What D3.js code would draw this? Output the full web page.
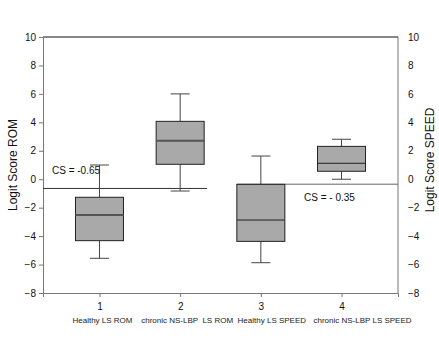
<!DOCTYPE html>
<html><head><meta charset="utf-8">
<script src="https://cdn.jsdelivr.net/npm/d3@7"></script>
<style>body{margin:0;background:#fff}svg{display:block}text{font-family:Arial,"Liberation Sans",sans-serif}</style>
</head><body><div id="chart"></div>
<script>
const categories = [1, 2, 3, 4];
const categoryLabels = ["Healthy LS ROM", "chronic NS-LBP  LS ROM", "Healthy LS SPEED", "chronic NS-LBP LS SPEED"];
const whiskerLow = [-5.56, -0.83, -5.87, 0.0];
const q1 = [-4.32, 1.05, -4.37, 0.56];
const median = [-2.52, 2.71, -2.87, 1.12];
const q3 = [-1.27, 4.07, -0.36, 2.31];
const whiskerHigh = [1.0, 6.0, 1.63, 2.81];
const yTicks = [10, 8, 6, 4, 2, 0, -2, -4, -6, -8];
const cutScores = [-0.65, -0.35];
const cutLabels = ["CS = -0.65", "CS = - 0.35"];

const W = 439, H = 355;
const svg = d3.select("#chart").append("svg").attr("width", W).attr("height", H);
const x = d3.scaleLinear().domain([0.3, 4.7]).range([43, 398]);
const y = d3.scaleLinear().domain([-8, 10]).range([293, 37]);

// frame
svg.append("line").attr("x1", 43).attr("x2", 398).attr("y1", y(10)).attr("y2", y(10)).attr("stroke", "#111").attr("stroke-width", 1);
svg.append("line").attr("x1", 398).attr("x2", 398).attr("y1", y(10)).attr("y2", y(-8)).attr("stroke", "#777").attr("stroke-width", 1);

// left axis
const yl = svg.append("g").attr("transform", "translate(43,0)")
  .call(d3.axisLeft(y).tickValues(yTicks).tickSize(4).tickPadding(3).tickFormat(d3.format("d")));
yl.select(".domain").attr("stroke", "#777");
yl.selectAll(".tick line").attr("stroke", "#777");
yl.selectAll("text").attr("font-size", 10).attr("fill", "#111");

// right axis
const yr = svg.append("g").attr("transform", "translate(398,0)")
  .call(d3.axisRight(y).tickValues(yTicks).tickSize(0).tickPadding(10).tickFormat(d3.format("d")));
yr.select(".domain").remove();
yr.selectAll("text").attr("font-size", 10).attr("fill", "#111");

// bottom axis
const xa = svg.append("g").attr("transform", `translate(0,${y(-8)})`)
  .call(d3.axisBottom(x).tickValues(categories).tickSize(4).tickPadding(6).tickFormat(d3.format("d")));
xa.select(".domain").attr("stroke", "#777");
xa.selectAll(".tick line").attr("stroke", "#777");
xa.selectAll("text").attr("font-size", 10).attr("fill", "#111");

// category labels
const labelShift = [3, 7, 11, 21];
svg.append("g").selectAll("text").data(categoryLabels).join("text")
  .attr("x", (d, i) => x(categories[i]) + labelShift[i])
  .attr("y", 323).attr("text-anchor", "middle").attr("font-size", 8).attr("fill", "#222")
  .style("white-space", "pre")
  .text(d => d);

// axis titles
svg.append("text").attr("transform", `translate(17,${(y(10) + y(-8)) / 2}) rotate(-90)`)
  .attr("text-anchor", "middle").attr("font-size", 12).attr("fill", "#111").text("Logit Score ROM");
svg.append("text").attr("transform", `translate(434,${(y(10) + y(-8)) / 2 - 5}) rotate(-90)`)
  .attr("text-anchor", "middle").attr("font-size", 12).attr("fill", "#111").text("Logit Score SPEED");

// cut score lines
svg.append("line").attr("x1", 43).attr("x2", 207).attr("y1", y(cutScores[0])).attr("y2", y(cutScores[0])).attr("stroke", "#333");
svg.append("line").attr("x1", 237).attr("x2", 398).attr("y1", y(cutScores[1])).attr("y2", y(cutScores[1])).attr("stroke", "#666");

// boxes
const bw = 48, cw = 19;
const g = svg.append("g");
categories.forEach((c, i) => {
  const cx = x(c);
  g.append("line").attr("x1", cx).attr("x2", cx).attr("y1", y(whiskerHigh[i])).attr("y2", y(q3[i])).attr("stroke", "#444");
  g.append("line").attr("x1", cx).attr("x2", cx).attr("y1", y(q1[i])).attr("y2", y(whiskerLow[i])).attr("stroke", "#444");
  g.append("line").attr("x1", cx - cw / 2).attr("x2", cx + cw / 2).attr("y1", y(whiskerHigh[i])).attr("y2", y(whiskerHigh[i])).attr("stroke", "#444");
  g.append("line").attr("x1", cx - cw / 2).attr("x2", cx + cw / 2).attr("y1", y(whiskerLow[i])).attr("y2", y(whiskerLow[i])).attr("stroke", "#444");
  g.append("rect").attr("x", cx - bw / 2).attr("width", bw).attr("y", y(q3[i])).attr("height", y(q1[i]) - y(q3[i]))
    .attr("fill", "#a9a9a9").attr("stroke", "#222").attr("stroke-width", 1);
  g.append("line").attr("x1", cx - bw / 2).attr("x2", cx + bw / 2).attr("y1", y(median[i])).attr("y2", y(median[i]))
    .attr("stroke", i < 2 ? "#555" : "#222").attr("stroke-width", i < 2 ? 2 : 1);
});

// cut score labels
svg.append("text").attr("x", 52).attr("y", y(cutScores[0]) - 14).attr("font-size", 10).attr("fill", "#111").text(cutLabels[0]);
svg.append("text").attr("x", 304).attr("y", y(cutScores[1]) + 17).attr("font-size", 10).attr("fill", "#111").text(cutLabels[1]);
</script></body></html>
